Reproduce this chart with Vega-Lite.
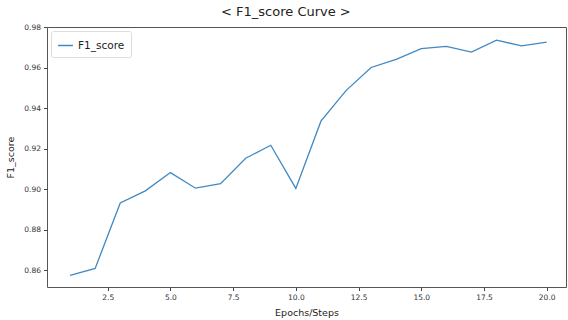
{
  "$schema": "https://vega.github.io/schema/vega-lite/v6.json",
  "autosize": {"type": "none"},
  "width": 519,
  "height": 260,
  "padding": {"left": 47, "top": 27, "right": 2, "bottom": 33},
  "background": "white",
  "title": {"text": "< F1_score Curve >", "fontSize": 13, "font": "DejaVu Sans", "fontWeight": "normal", "color": "#222", "anchor": "middle", "frame": "bounds", "offset": 4},
  "data": {"values": [
    {"epoch": 1, "f1": 0.8575, "series": "F1_score"},
    {"epoch": 2, "f1": 0.8610, "series": "F1_score"},
    {"epoch": 3, "f1": 0.8933, "series": "F1_score"},
    {"epoch": 4, "f1": 0.8993, "series": "F1_score"},
    {"epoch": 5, "f1": 0.9083, "series": "F1_score"},
    {"epoch": 6, "f1": 0.9006, "series": "F1_score"},
    {"epoch": 7, "f1": 0.9028, "series": "F1_score"},
    {"epoch": 8, "f1": 0.9154, "series": "F1_score"},
    {"epoch": 9, "f1": 0.9218, "series": "F1_score"},
    {"epoch": 10, "f1": 0.9005, "series": "F1_score"},
    {"epoch": 11, "f1": 0.9337, "series": "F1_score"},
    {"epoch": 12, "f1": 0.9488, "series": "F1_score"},
    {"epoch": 13, "f1": 0.9602, "series": "F1_score"},
    {"epoch": 14, "f1": 0.9642, "series": "F1_score"},
    {"epoch": 15, "f1": 0.9695, "series": "F1_score"},
    {"epoch": 16, "f1": 0.9706, "series": "F1_score"},
    {"epoch": 17, "f1": 0.9678, "series": "F1_score"},
    {"epoch": 18, "f1": 0.9737, "series": "F1_score"},
    {"epoch": 19, "f1": 0.9709, "series": "F1_score"},
    {"epoch": 20, "f1": 0.9727, "series": "F1_score"}
  ]},
  "mark": {"type": "line", "strokeWidth": 1.3, "clip": true},
  "encoding": {
    "x": {"field": "epoch", "type": "quantitative", "scale": {"domain": [0.08, 20.77], "nice": false, "zero": false},
      "axis": {"title": "Epochs/Steps", "values": [2.5, 5, 7.5, 10, 12.5, 15, 17.5, 20], "format": ".1f", "grid": false}},
    "y": {"field": "f1", "type": "quantitative", "scale": {"domain": [0.8518, 0.9802], "nice": false, "zero": false},
      "axis": {"title": "F1_score", "values": [0.86, 0.88, 0.9, 0.92, 0.94, 0.96, 0.98], "format": ".2f", "grid": false}},
    "color": {"field": "series", "type": "nominal", "scale": {"range": ["#4089c2"]},
      "legend": {"title": null, "orient": "top-left", "offset": 4, "symbolType": "stroke", "symbolStrokeWidth": 1.5, "symbolSize": 220, "labelFontSize": 10.5, "labelFont": "DejaVu Sans", "labelColor": "#222", "strokeColor": "#dddddd", "fillColor": "white", "cornerRadius": 2, "padding": 6}}
  },
  "config": {
    "font": "DejaVu Sans",
    "view": {"stroke": "#555", "strokeWidth": 1},
    "axis": {"domain": false, "tickColor": "#444", "tickSize": 3.5, "labelFontSize": 7.5, "labelColor": "#333", "labelFont": "DejaVu Sans", "titleFont": "DejaVu Sans", "titleFontSize": 9.5, "titleFontWeight": "normal", "titleColor": "#222", "labelPadding": 3},
    "axisY": {"titlePadding": 8},
    "axisX": {"titlePadding": 6}
  }
}
